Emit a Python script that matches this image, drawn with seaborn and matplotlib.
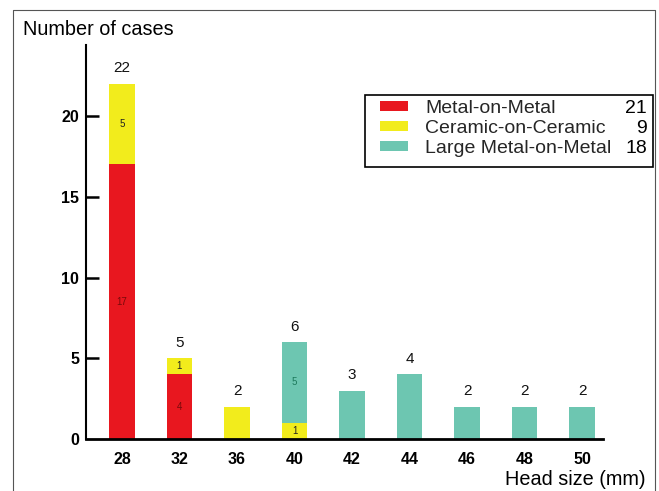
import matplotlib
matplotlib.use("Agg")
import matplotlib.pyplot as plt
import seaborn as sns
import numpy as np
from matplotlib.patches import Rectangle, Patch
from matplotlib.lines import Line2D

# ---- data ----
head_sizes = ["28", "32", "36", "40", "42", "44", "46", "48", "50"]
metal_on_metal = [17, 4, 0, 0, 0, 0, 0, 0, 0]
ceramic_on_ceramic = [5, 1, 2, 1, 0, 0, 0, 0, 0]
large_metal_on_metal = [0, 0, 0, 5, 3, 4, 2, 2, 2]
series_names = ["Metal-on-Metal", "Ceramic-on-Ceramic", "Large Metal-on-Metal"]
y_ticks = [0, 5, 10, 15, 20]

# ---- styles ----
series_colors = ["#E8171F", "#F2EC1C", "#6DC6B1"]
inner_label_colors = ["#7a0a0a", "#222222", "#1d7a5c"]

sns.set_theme(style="white")
plt.rcParams['font.family'] = ['Liberation Sans', 'DejaVu Sans']

W, H = 659, 491
fig = plt.figure(figsize=(W / 100, H / 100), dpi=100)
ax = fig.add_axes([86 / W, (H - 439) / H, (603 - 86) / W, (439 - 45) / H])

series = [metal_on_metal, ceramic_on_ceramic, large_metal_on_metal]
n_segments = (np.array(series) > 0).sum(axis=0)
bottom = np.zeros(len(head_sizes))
for name, vals, color, lc in zip(series_names, series, series_colors, inner_label_colors):
    vals_arr = np.array(vals, dtype=float)
    sns.barplot(x=head_sizes, y=vals_arr, order=head_sizes, color=color,
                saturation=1, width=0.45, bottom=bottom, errorbar=None,
                linewidth=0, ax=ax)
    for i, v in enumerate(vals):
        if v > 0 and n_segments[i] > 1:
            ax.text(i, bottom[i] + v / 2, str(v), ha='center', va='center',
                    fontsize=7, color=lc)
    bottom = bottom + vals_arr

totals = bottom
for i, t in enumerate(totals):
    ax.annotate(str(int(t)), xy=(i, t), xytext=(0, 6), textcoords='offset points',
                ha='center', va='bottom', fontsize=11, color='#111111')

ax.set_xlim(-0.626, 8.365)
ax.set_ylim(0, 24.4)
ax.set_xlabel("")
ax.set_ylabel("")

for s in ["top", "right"]:
    ax.spines[s].set_visible(False)
ax.spines["left"].set_color("black")
ax.spines["left"].set_linewidth(1.5)
ax.spines["bottom"].set_color("black")
ax.spines["bottom"].set_linewidth(2)

ax.set_yticks(y_ticks)
ax.set_yticklabels([str(t) for t in y_ticks], fontweight='bold', fontsize=11.5)
ax.set_xticks(range(len(head_sizes)))
ax.set_xticklabels(head_sizes, fontweight='bold', fontsize=11.5)
ax.tick_params(axis='y', left=True, direction='in', length=9, width=1.8,
               pad=5, colors='black')
ax.tick_params(axis='x', bottom=True, length=0, pad=9, colors='black')
ax.yaxis.get_major_ticks()[0].tick1line.set_visible(False)
ax.grid(False)

# legend
handles = [Patch(facecolor=c, edgecolor='none') for c in series_colors]
leg = ax.legend(handles, series_names, loc='upper left',
                bbox_to_anchor=(380 / W, (H - 100) / H), bbox_transform=fig.transFigure,
                frameon=False, fontsize=14, handlelength=1.45, handleheight=0.47,
                handletextpad=0.88, labelspacing=0.15, borderpad=0, borderaxespad=0)
fig.add_artist(Rectangle((365 / W, (H - 167) / H), (653 - 365) / W, (167 - 95) / H,
                         transform=fig.transFigure, fill=False, ec='black', lw=1.2))

fig.canvas.draw()
renderer = fig.canvas.get_renderer()
counts = [int(sum(s)) for s in series]
for txt, cnt in zip(leg.get_texts(), counts):
    bb = txt.get_window_extent(renderer)
    fig.text(647 / W, bb.y0 / H, str(cnt), ha='right', va='bottom',
             fontsize=14, color='black')

# titles
fig.text(23 / W, (H - 35) / H, "Number of cases", ha='left', va='baseline',
         fontsize=14.3, color='black')
fig.text(646 / W, (H - 485) / H, "Head size (mm)", ha='right', va='baseline',
         fontsize=14.3, color='black')

# figure border
fig.add_artist(Line2D([13 / W, 13 / W, 655 / W, 655 / W], [0, (H - 10) / H, (H - 10) / H, 0],
                      transform=fig.transFigure, color='#555555', lw=0.8))

fig.savefig("out.png", dpi=100)
